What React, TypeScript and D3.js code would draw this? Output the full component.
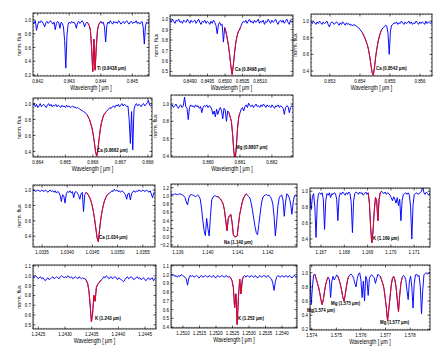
import React from 'react';
import * as d3 from 'd3';

// ---------- DATA (normalized flux, evenly sampled across each wavelength window) ----------
const tiRange = [0.84185, 0.84553];
const tiFlux = [
  0.97, 0.95, 0.99, 0.85, 0.93, 0.98, 0.96, 0.99, 0.97, 0.94,
  0.90, 0.96, 0.98, 0.95, 0.97, 0.99, 0.96, 0.94, 0.97, 0.86,
  0.95, 0.98, 0.96, 0.88, 0.97, 0.95, 0.90, 0.70, 0.30, 0.78,
  0.94, 0.97, 0.95, 0.98, 0.96, 0.97, 0.94, 0.88, 0.96, 0.98,
  0.95, 0.97, 0.99, 0.96, 0.90, 0.95, 0.97, 0.95, 0.92, 0.85,
  0.60, 0.25, 0.72, 0.27, 0.60, 0.85, 0.93, 0.96, 0.98, 0.95,
  0.97, 0.90, 0.68, 0.92, 0.97, 0.95, 0.99, 0.96, 0.94, 0.98,
  0.96, 0.97, 0.95, 0.99, 0.97, 0.94, 0.96, 0.98, 0.95, 0.97,
  0.99, 0.96, 0.94, 0.97, 0.98, 0.95, 0.97, 0.96, 0.99, 0.95,
  0.97, 0.94, 0.96, 0.98, 0.90, 0.65, 0.92, 0.97, 0.95, 0.98,
];
const tiFit = [46, 58];

const ca8498Range = [0.84843, 0.85194];
const ca8498Flux = [
  0.99, 0.97, 1.00, 0.98, 0.96, 0.99, 0.98, 1.00, 0.97, 0.98,
  0.96, 0.99, 0.98, 0.97, 1.00, 0.98, 0.96, 0.99, 0.97, 0.98,
  0.99, 0.96, 0.98, 1.00, 0.97, 0.95, 0.98, 0.97, 0.99, 0.96,
  0.98, 0.97, 0.95, 0.98, 0.96, 0.99, 0.97, 0.94, 0.86, 0.95,
  0.97, 0.94, 0.95, 0.78, 0.92, 0.88, 0.82, 0.75, 0.66, 0.55,
  0.47, 0.56, 0.68, 0.78, 0.84, 0.88, 0.90, 0.93, 0.96, 0.98,
  0.97, 0.99, 0.96, 0.98, 1.00, 0.97, 0.98, 0.96, 0.99, 0.97,
  0.98, 1.00, 0.96, 0.98, 0.97, 0.99, 0.95, 0.98, 0.97, 1.00,
  0.98, 0.96, 0.99, 0.97, 0.98, 1.00, 0.97, 0.95, 0.98, 0.99,
  0.97, 0.99, 0.96, 0.98, 1.00, 0.97, 0.95, 0.99, 0.97, 0.98,
];
const ca8498Fit = [44, 57];

const ca8542Range = [0.85237, 0.8564];
const ca8542Flux = [
  0.99, 0.97, 1.00, 0.98, 0.96, 0.99, 0.97, 1.00, 0.98, 0.96,
  0.99, 0.97, 0.98, 1.00, 0.96, 0.93, 0.97, 0.99, 0.98, 0.96,
  0.98, 0.99, 0.97, 0.95, 0.98, 0.96, 0.99, 0.97, 0.95, 0.98,
  0.96, 0.97, 0.95, 0.96, 0.94, 0.96, 0.95, 0.94, 0.93, 0.92,
  0.90, 0.88, 0.86, 0.83, 0.80, 0.76, 0.72, 0.66, 0.58, 0.48,
  0.38, 0.35, 0.45, 0.58, 0.68, 0.76, 0.82, 0.87, 0.90, 0.92,
  0.93, 0.95, 0.94, 0.85, 0.60, 0.88, 0.95, 0.96, 0.98, 0.97,
  0.99, 0.96, 0.98, 0.97, 1.00, 0.98, 0.96, 0.99, 0.97, 0.98,
  1.00, 0.97, 0.99, 0.96, 0.98, 0.97, 1.00, 0.98, 0.96, 0.99,
  0.97, 0.99, 0.98, 0.96, 1.00, 0.97, 0.99, 0.98, 0.97, 0.99,
];
const ca8542Fit = [42, 58];

const ca8662Range = [0.86382, 0.86815];
const ca8662Flux = [
  0.98, 1.00, 0.96, 0.99, 0.95, 0.97, 1.00, 0.96, 0.98, 0.99,
  0.97, 0.95, 0.98, 1.00, 0.97, 0.99, 0.96, 0.98, 0.97, 0.99,
  0.96, 0.98, 0.97, 0.95, 0.98, 0.96, 0.97, 0.95, 0.98, 0.96,
  0.97, 0.95, 0.96, 0.97, 0.95, 0.96, 0.94, 0.95, 0.94, 0.93,
  0.92, 0.91, 0.90, 0.89, 0.88, 0.86, 0.83, 0.80, 0.75, 0.70,
  0.62, 0.52, 0.40, 0.34, 0.42, 0.56, 0.68, 0.76, 0.82, 0.86,
  0.88, 0.90, 0.92, 0.93, 0.95, 0.94, 0.96, 0.97, 0.95, 0.98,
  0.97, 0.99, 0.96, 0.98, 1.00, 0.97, 0.99, 0.98, 0.96, 0.97,
  0.80, 0.50, 0.90, 0.42, 0.92, 0.98, 1.00, 0.97, 0.99, 0.98,
  0.96, 0.99, 1.00, 0.97, 0.99, 1.01, 1.04, 0.98, 0.97, 0.99,
];
const ca8662Fit = [45, 61];

const mg8807Range = [0.87884, 0.88266];
const mg8807Flux = [
  0.97, 0.99, 0.96, 0.98, 1.00, 0.97, 0.95, 0.98, 0.99, 0.96,
  0.98, 1.08, 0.97, 0.95, 0.82, 0.96, 0.99, 0.97, 0.98, 0.96,
  0.99, 0.97, 0.98, 0.95, 0.97, 0.90, 0.96, 0.98, 0.97, 0.99,
  0.96, 0.98, 0.97, 0.94, 0.88, 0.92, 0.85, 0.94, 0.88, 0.93,
  0.96, 0.92, 0.83, 0.95, 0.93, 0.80, 0.92, 0.90, 0.85, 0.80,
  0.65, 0.45, 0.35, 0.50, 0.72, 0.85, 0.90, 0.94, 0.96, 0.92,
  0.97, 0.99, 0.96, 1.01, 0.98, 0.97, 0.99, 0.96, 0.98, 1.00,
  0.97, 0.98, 0.96, 0.99, 0.97, 1.00, 0.98, 0.96, 0.99, 0.97,
  0.98, 0.96, 0.99, 0.97, 0.95, 0.98, 0.97, 0.99, 0.96, 0.98,
  0.97, 0.95, 0.88, 0.96, 0.98, 0.97, 0.90, 0.96, 0.98, 0.97,
];
const mg8807Fit = [47, 56];

const ca1034Range = [1.033321, 1.035742];
const ca1034Flux = [
  0.99, 1.00, 0.98, 0.99, 1.00, 0.99, 0.98, 1.00, 0.99, 0.98,
  1.00, 0.99, 0.97, 0.99, 1.00, 0.98, 0.99, 0.97, 0.99, 0.96,
  0.98, 0.97, 0.93, 0.85, 0.94, 0.92, 0.83, 0.95, 0.98, 0.97,
  0.99, 0.96, 0.98, 0.90, 0.97, 0.98, 0.96, 0.93, 0.88, 0.95,
  0.97, 0.72, 0.94, 0.97, 0.96, 0.93, 0.90, 0.86, 0.80, 0.72,
  0.62, 0.50, 0.38, 0.33, 0.48, 0.62, 0.72, 0.80, 0.86, 0.90,
  0.93, 0.95, 0.96, 0.97, 0.99, 0.98, 1.01, 0.99, 1.00, 0.98,
  0.99, 0.97, 0.99, 0.98, 0.96, 0.94, 0.88, 0.95, 0.96, 0.87,
  0.95, 0.98, 0.99, 0.97, 0.99, 0.98, 1.00, 0.99, 0.98, 1.00,
  0.99, 0.98, 1.00, 0.99, 0.97, 0.99, 0.95, 0.90, 0.96, 0.98,
];
const ca1034Fit = [43, 62];

const na1140Range = [1.13877, 1.14297];
const na1140Flux = [
  1.03, 1.04, 1.03, 1.05, 1.04, 1.03, 1.04, 1.05, 1.04, 1.02,
  1.00, 0.96, 0.85, 0.78, 0.95, 1.02, 1.03, 1.02, 1.01, 0.98,
  1.00, 1.02, 0.99, 0.92, 0.70, 0.40, 0.15, 0.03, 0.45, 0.20,
  0.02, 0.50, 0.90, 0.97, 1.00, 1.00, 0.98, 0.98, 0.95, 0.92,
  0.86, 0.80, 0.65, 0.40, 0.15, 0.45, 0.52, 0.55, 0.35, 0.05,
  0.00, 0.00, 0.02, 0.30, 0.55, 0.70, 0.85, 0.95, 1.00, 1.05,
  1.02, 0.98, 0.95, 0.82, 0.65, 0.45, 0.25, 0.10, 0.05, 0.30,
  0.55, 0.80, 0.95, 1.00, 1.02, 1.03, 1.01, 1.02, 0.98, 0.92,
  0.80, 0.50, 0.02, 0.35, 0.75, 0.95, 1.00, 1.02, 0.90, 0.50,
  0.85, 1.05, 1.02, 0.95, 0.80, 0.55, 0.85, 1.00, 1.02, 1.01,
];
const na1140Fit = [36, 60];

const k1169Range = [1.166528, 1.171678];
const k1169Flux = [
  0.95, 0.77, 0.93, 0.97, 0.80, 0.42, 0.85, 0.97, 0.98, 0.96,
  0.98, 0.90, 0.52, 0.88, 0.97, 0.95, 0.98, 0.92, 0.97, 0.96,
  0.98, 0.97, 0.90, 0.63, 0.92, 0.98, 0.96, 0.99, 0.97, 0.95,
  0.98, 0.96, 0.99, 0.97, 0.86, 0.48, 0.88, 0.97, 0.99, 0.98,
  0.96, 0.99, 0.97, 0.98, 0.95, 0.97, 0.99, 0.96, 0.98, 0.85,
  0.55, 0.35, 0.50, 0.75, 0.92, 0.88, 0.63, 0.90, 0.98, 1.00,
  0.98, 0.97, 0.99, 0.96, 0.98, 0.97, 0.95, 0.92, 0.88, 0.93,
  0.90, 0.85, 0.92, 0.82, 0.90, 0.63, 0.88, 0.96, 0.97, 0.98,
  0.96, 0.98, 0.95, 0.80, 0.40, 0.82, 0.96, 0.97, 0.98, 0.96,
  0.97, 0.98, 1.00, 1.05, 0.98, 0.96, 0.99, 0.97, 0.95, 0.98,
];
const k1169Fit = [48, 59];

const k1243Range = [1.2424, 1.244704];
const k1243Flux = [
  0.99, 0.98, 1.00, 0.99, 0.97, 0.98, 0.99, 0.97, 0.98, 0.96,
  0.95, 0.97, 0.98, 0.96, 0.97, 0.98, 0.99, 0.97, 0.98, 0.99,
  0.98, 0.97, 0.99, 1.00, 0.99, 0.98, 0.99, 0.98, 1.00, 0.99,
  0.98, 0.99, 0.97, 0.98, 0.99, 0.98, 0.97, 0.99, 0.98, 0.97,
  0.98, 0.97, 0.97, 0.95, 0.92, 0.85, 0.70, 0.53, 0.62, 0.80,
  0.74, 0.88, 0.91, 0.93, 0.94, 0.96, 0.97, 0.99, 0.98, 1.00,
  0.99, 0.97, 0.98, 0.99, 0.97, 0.98, 0.99, 0.98, 0.96, 0.98,
  0.97, 0.96, 0.95, 0.94, 0.96, 0.98, 0.99, 0.97, 0.98, 0.99,
  0.98, 0.96, 0.97, 0.98, 0.99, 0.97, 0.98, 0.96, 0.97, 0.98,
  0.96, 0.95, 0.97, 0.98, 0.96, 0.97, 0.98, 0.95, 0.97, 0.98,
];
const k1243Fit = [42, 55];

const k1252Range = [1.250636, 1.254455];
const k1252Flux = [
  1.00, 0.99, 1.00, 0.98, 0.99, 0.97, 0.99, 0.98, 1.00, 0.99,
  0.98, 0.97, 0.95, 0.88, 0.96, 0.99, 0.98, 0.99, 0.97, 0.98,
  0.99, 0.98, 0.96, 0.98, 0.99, 0.97, 0.98, 0.99, 0.98, 0.97,
  0.99, 0.98, 0.97, 0.99, 0.98, 0.96, 0.98, 0.99, 0.97, 0.98,
  0.99, 0.98, 0.97, 0.99, 0.98, 0.97, 0.98, 0.96, 0.93, 0.85,
  0.62, 0.78, 0.43, 0.75, 0.95, 0.78, 0.94, 0.98, 0.99, 0.97,
  0.99, 0.98, 0.97, 0.99, 0.98, 0.97, 0.99, 0.98, 0.96, 0.98,
  0.99, 0.97, 0.98, 0.99, 0.98, 0.97, 0.99, 0.98, 0.96, 0.95,
  0.90, 0.82, 0.92, 0.97, 0.99, 0.98, 0.97, 0.99, 0.98, 0.97,
  0.99, 0.98, 0.97, 0.99, 0.98, 0.96, 0.98, 0.99, 0.97, 0.98,
];
const k1252Fit = [46, 57];

const mg1575Range = [1.57393, 1.57881];
const mg1575Flux = [
  0.98, 0.55, 0.80, 0.97, 0.98, 0.92, 0.86, 0.80, 0.72, 0.62,
  0.55, 0.62, 0.74, 0.84, 0.90, 0.94, 0.90, 0.65, 0.88, 0.95,
  0.90, 0.93, 0.97, 0.95, 0.90, 0.84, 0.76, 0.66, 0.60, 0.68,
  0.80, 0.90, 0.95, 0.97, 0.98, 0.96, 0.92, 0.85, 0.80, 0.92,
  0.98, 1.00, 0.90, 0.65, 0.88, 0.60, 0.95, 0.90, 0.68, 0.92,
  0.96, 0.97, 0.95, 0.93, 0.85, 0.92, 0.98, 0.96, 0.95, 0.90,
  0.85, 0.78, 0.65, 0.50, 0.32, 0.48, 0.65, 0.82, 0.92, 0.95,
  0.90, 0.80, 0.62, 0.45, 0.68, 0.85, 0.93, 0.96, 0.95, 0.90,
  0.75, 0.62, 0.88, 0.95, 0.80, 0.50, 0.85, 0.97, 0.98, 0.95,
  0.96, 0.80, 0.42, 0.75, 0.97, 0.99, 1.00, 0.98, 0.99, 1.00,
];
const mg1575Fits = [[4, 15], [23, 32], [58, 76]];

// tick values
const ticksTiX = [0.842, 0.843, 0.844, 0.845];
const ticksCa8498X = [0.849, 0.8495, 0.85, 0.8505, 0.851];
const ticksCa8542X = [0.853, 0.854, 0.855, 0.856];
const ticksCa8662X = [0.864, 0.865, 0.866, 0.867, 0.868];
const ticksMg8807X = [0.88, 0.881, 0.882];
const ticksCa1034X = [1.0335, 1.034, 1.0345, 1.035, 1.0355];
const ticksNaX = [1.139, 1.14, 1.141, 1.142];
const ticksK1169X = [1.167, 1.168, 1.169, 1.17, 1.171];
const ticksK1243X = [1.2425, 1.243, 1.2435, 1.244, 1.2445];
const ticksK1252X = [1.251, 1.2515, 1.252, 1.2525, 1.253, 1.2535, 1.254];
const ticksMgX = [1.574, 1.575, 1.576, 1.577, 1.578];

const yTicks02 = [0.2, 0.4, 0.6, 0.8, 1.0];
const yTicks04 = [0.4, 0.6, 0.8, 1.0];
const yTicksCa8498 = [0.5, 0.6, 0.7, 0.8, 0.9, 1.0];
const yTicksNa = [-0.2, 0.0, 0.2, 0.4, 0.6, 0.8, 1.0, 1.2];
const yTicksK1243 = [0.5, 0.6, 0.7, 0.8, 0.9, 1.0, 1.1];
const yTicksK1252 = [0.4, 0.5, 0.6, 0.7, 0.8, 0.9, 1.0, 1.1];

const lineLabels = {
  ti: 'Ti (0.8438 μm)',
  ca8498: 'Ca (0.8498 μm)',
  ca8542: 'Ca (0.8542 μm)',
  ca8662: 'Ca (0.8662 μm)',
  mg8807: 'Mg (0.8807 μm)',
  ca1034: 'Ca (1.034 μm)',
  na: 'Na (1.140 μm)',
  k1169: 'K (1.169 μm)',
  k1243: 'K (1.243 μm)',
  k1252: 'K (1.252 μm)',
  mg1574: 'Mg(1.574 μm)',
  mg1575: 'Mg (1.575 μm)',
  mg1577: 'Mg (1.577 μm)',
};

// ---------- LAYOUT ----------
type Panel = {
  box: [number, number, number, number];
  range: number[];
  flux: number[];
  fits: number[][];
  yDomain: [number, number];
  xTicks: number[];
  xDec: number;
  yTicks: number[];
  yMinor: number;
  labels: { text: string; x: number; y: number }[];
  xTitle: boolean;
  yTitleX: number | null;
};

const panels: Panel[] = [
  { box: [33, 13, 149, 76], range: tiRange, flux: tiFlux, fits: [tiFit], yDomain: [0.185, 1.102],
    xTicks: ticksTiX, xDec: 3, yTicks: yTicks02, yMinor: 0.05,
    labels: [{ text: lineLabels.ti, x: 97, y: 70 }], xTitle: true, yTitleX: 21 },
  { box: [170, 15, 293, 76], range: ca8498Range, flux: ca8498Flux, fits: [ca8498Fit], yDomain: [0.455, 1.04],
    xTicks: ticksCa8498X, xDec: 4, yTicks: yTicksCa8498, yMinor: 0.025,
    labels: [{ text: lineLabels.ca8498, x: 235, y: 71 }], xTitle: true, yTitleX: 158 },
  { box: [311, 14, 432, 76], range: ca8542Range, flux: ca8542Flux, fits: [ca8542Fit], yDomain: [0.34, 1.085],
    xTicks: ticksCa8542X, xDec: 3, yTicks: yTicks04, yMinor: 0.05,
    labels: [{ text: lineLabels.ca8542, x: 376, y: 70 }], xTitle: true, yTitleX: 297 },
  { box: [33, 98, 152, 157], range: ca8662Range, flux: ca8662Flux, fits: [ca8662Fit], yDomain: [0.33, 1.07],
    xTicks: ticksCa8662X, xDec: 3, yTicks: yTicks04, yMinor: 0.05,
    labels: [{ text: lineLabels.ca8662, x: 97, y: 152 }], xTitle: true, yTitleX: 21 },
  { box: [171, 95, 293, 157], range: mg8807Range, flux: mg8807Flux, fits: [mg8807Fit], yDomain: [0.388, 1.104],
    xTicks: ticksMg8807X, xDec: 3, yTicks: yTicks04, yMinor: 0.05,
    labels: [{ text: lineLabels.mg8807, x: 236, y: 149 }], xTitle: true, yTitleX: 157 },
  { box: [33, 185, 155, 247], range: ca1034Range, flux: ca1034Flux, fits: [ca1034Fit], yDomain: [0.26, 1.065],
    xTicks: ticksCa1034X, xDec: 4, yTicks: yTicks04, yMinor: 0.05,
    labels: [{ text: lineLabels.ca1034, x: 99, y: 239 }], xTitle: false, yTitleX: 21 },
  { box: [171, 184, 297, 247], range: na1140Range, flux: na1140Flux, fits: [na1140Fit], yDomain: [-0.25, 1.29],
    xTicks: ticksNaX, xDec: 3, yTicks: yTicksNa, yMinor: 0.1,
    labels: [{ text: lineLabels.na, x: 224, y: 244 }], xTitle: false, yTitleX: null },
  { box: [310, 188, 430, 247], range: k1169Range, flux: k1169Flux, fits: [k1169Fit], yDomain: [0.3, 1.04],
    xTicks: ticksK1169X, xDec: 3, yTicks: yTicks04, yMinor: 0.05,
    labels: [{ text: lineLabels.k1169, x: 373, y: 240 }], xTitle: false, yTitleX: null },
  { box: [33, 265, 156, 329], range: k1243Range, flux: k1243Flux, fits: [k1243Fit], yDomain: [0.457, 1.11],
    xTicks: ticksK1243X, xDec: 4, yTicks: yTicksK1243, yMinor: 0.025,
    labels: [{ text: lineLabels.k1243, x: 95, y: 320 }], xTitle: true, yTitleX: 21 },
  { box: [171, 265, 297, 328], range: k1252Range, flux: k1252Flux, fits: [k1252Fit], yDomain: [0.39, 1.11],
    xTicks: ticksK1252X, xDec: 4, yTicks: yTicksK1252, yMinor: 0.025,
    labels: [{ text: lineLabels.k1252, x: 238, y: 320 }], xTitle: true, yTitleX: null },
  { box: [310, 265, 430, 330], range: mg1575Range, flux: mg1575Flux, fits: mg1575Fits, yDomain: [0.19, 1.11],
    xTicks: ticksMgX, xDec: 3, yTicks: yTicks02, yMinor: 0.05,
    labels: [
      { text: lineLabels.mg1574, x: 307, y: 312 },
      { text: lineLabels.mg1575, x: 331, y: 305 },
      { text: lineLabels.mg1577, x: 380, y: 324 },
    ], xTitle: true, yTitleX: null },
];

const FONT = 'Liberation Sans, Arial, Helvetica, sans-serif';

function Txt(props: { x: number; y: number; size: number; sx: number; anchor?: string; weight?: string; rotate?: number; children: React.ReactNode }) {
  const { x, y, size, sx, anchor = 'middle', weight = 'normal', rotate = 0, children } = props;
  return (
    <text
      transform={`translate(${x},${y}) rotate(${rotate}) scale(${sx},1)`}
      fontSize={size}
      fontFamily={FONT}
      fontWeight={weight}
      textAnchor={anchor}
      fill="#000"
    >
      {children}
    </text>
  );
}

function SpectrumPanel({ p, idx }: { p: Panel; idx: number }) {
  const [x0, y0, x1, y1] = p.box;
  const xs = d3.scaleLinear().domain([p.range[0], p.range[1]]).range([x0, x1]);
  const ys = d3.scaleLinear().domain(p.yDomain).range([y1, y0]);
  const n = p.flux.length;
  const wave = (i: number) => p.range[0] + (i * (p.range[1] - p.range[0])) / (n - 1);
  const line = d3
    .line<number>()
    .x((_, i) => xs(wave(i)))
    .y((d) => ys(d));
  const fitLine = (a: number, b: number) =>
    d3
      .line<number>()
      .x((_, i) => xs(wave(a + i)))
      .y((d) => ys(d))(p.flux.slice(a, b + 1)) || '';

  const step = p.xTicks[1] - p.xTicks[0];
  const minorStep = step / 10;
  const minorX: number[] = [];
  for (let v = p.xTicks[0] - step; v <= p.range[1] + 1e-9; v += minorStep) {
    if (v >= p.range[0] && v <= p.range[1]) minorX.push(v);
  }
  const minorY: number[] = [];
  for (let v = Math.floor(p.yDomain[0] / p.yMinor) * p.yMinor; v <= p.yDomain[1]; v += p.yMinor) {
    if (v >= p.yDomain[0] && v <= p.yDomain[1]) minorY.push(v);
  }
  const clipId = `clip${idx}`;
  const fmtX = d3.format(`.${p.xDec}f`);
  const fmtY = d3.format('.1f');
  return (
    <g>
      <defs>
        <clipPath id={clipId}>
          <rect x={x0} y={y0} width={x1 - x0} height={y1 - y0} />
        </clipPath>
      </defs>
      <g clipPath={`url(#${clipId})`}>
        <path d={line(p.flux) || ''} fill="none" stroke="#0000ff" strokeWidth={0.95} strokeLinejoin="round" />
        {p.fits.map((f, k) => (
          <path key={k} d={fitLine(f[0], f[1])} fill="none" stroke="#ff0000" strokeOpacity={0.92} strokeWidth={1} strokeLinejoin="round" />
        ))}
      </g>
      <rect x={x0} y={y0} width={x1 - x0} height={y1 - y0} fill="none" stroke="#000" strokeWidth={0.8} />
      {minorX.map((v, k) => (
        <g key={'mx' + k}>
          <line x1={xs(v)} x2={xs(v)} y1={y1} y2={y1 - 1.2} stroke="#000" strokeWidth={0.5} />
          <line x1={xs(v)} x2={xs(v)} y1={y0} y2={y0 + 1.2} stroke="#000" strokeWidth={0.5} />
        </g>
      ))}
      {p.xTicks.map((v, k) => (
        <g key={'x' + k}>
          <line x1={xs(v)} x2={xs(v)} y1={y1} y2={y1 - 2.5} stroke="#000" strokeWidth={0.6} />
          <line x1={xs(v)} x2={xs(v)} y1={y0} y2={y0 + 2.5} stroke="#000" strokeWidth={0.6} />
          <Txt x={xs(v)} y={y1 + 6.5} size={6.2} sx={0.72}>{fmtX(v)}</Txt>
        </g>
      ))}
      {minorY.map((v, k) => (
        <g key={'my' + k}>
          <line x1={x0} x2={x0 + 1.2} y1={ys(v)} y2={ys(v)} stroke="#000" strokeWidth={0.5} />
          <line x1={x1} x2={x1 - 1.2} y1={ys(v)} y2={ys(v)} stroke="#000" strokeWidth={0.5} />
        </g>
      ))}
      {p.yTicks.map((v, k) => (
        <g key={'y' + k}>
          <line x1={x0} x2={x0 + 2.5} y1={ys(v)} y2={ys(v)} stroke="#000" strokeWidth={0.6} />
          <line x1={x1} x2={x1 - 2.5} y1={ys(v)} y2={ys(v)} stroke="#000" strokeWidth={0.6} />
          <Txt x={x0 - 2} y={ys(v) + 2.1} size={6.2} sx={0.72} anchor="end">{fmtY(v)}</Txt>
        </g>
      ))}
      {p.labels.map((l, k) => (
        <Txt key={'l' + k} x={l.x} y={l.y} size={5.6} sx={0.78} anchor="start" weight="bold">{l.text}</Txt>
      ))}
      {p.xTitle && (
        <Txt x={(x0 + x1) / 2} y={y1 + 14} size={6.6} sx={0.78}>Wavelength  [ μm ]</Txt>
      )}
      {p.yTitleX !== null && (
        <Txt x={p.yTitleX} y={(y0 + y1) / 2} size={6} sx={0.9} rotate={-90}>norm. flux</Txt>
      )}
    </g>
  );
}

export default function App() {
  return (
    <svg
      width={448}
      height={355}
      viewBox="0 0 448 355"
      style={{ position: 'absolute', left: 0, top: 0, background: '#fff' }}
    >
      <rect x={0} y={0} width={448} height={355} fill="#fff" />
      {panels.map((p, i) => (
        <SpectrumPanel key={i} p={p} idx={i} />
      ))}
    </svg>
  );
}
